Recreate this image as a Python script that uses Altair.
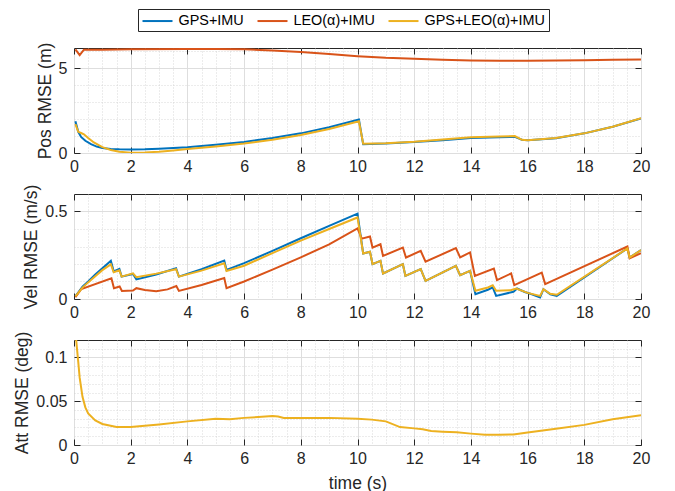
import altair as alt
import pandas as pd

FONT = "Liberation Sans"
INK = "#262626"
SERIES = ["GPS+IMU", "LEO(α)+IMU", "GPS+LEO(α)+IMU"]
COLORS = ["#0072BD", "#D95319", "#EDB120"]

# ---------------- Position RMSE (m) ----------------
pos_gps_t = [0.05, 0.15, 0.25, 0.4, 0.6, 0.8, 1.0, 1.3, 1.6, 2.0, 2.5, 3.0, 3.5, 4.0, 5.0, 6.0, 7.0, 8.0, 9.0, 10.05,
             10.2, 11.0, 12.0, 13.0, 14.0, 15.0, 15.55, 15.8, 16.0, 17.0, 18.0, 19.0, 20.0]
pos_gps_v = [1.87, 1.25, 0.95, 0.72, 0.52, 0.38, 0.30, 0.24, 0.22, 0.21, 0.22, 0.25, 0.29, 0.34, 0.48, 0.65, 0.88, 1.16, 1.52, 1.98,
             0.52, 0.56, 0.65, 0.76, 0.88, 0.93, 0.95, 0.78, 0.75, 0.87, 1.16, 1.55, 2.04]

pos_leo_t = [0.05, 0.2, 0.35, 1.0, 2.0, 4.0, 5.0, 6.0, 7.0, 8.0, 9.0, 10.0, 11.0, 12.0, 13.0, 14.0, 15.0, 16.0, 17.0, 18.0, 19.0, 20.0]
pos_leo_v = [6.12, 5.78, 6.10, 6.10, 6.12, 6.14, 6.14, 6.12, 6.05, 5.96, 5.85, 5.72, 5.62, 5.56, 5.50, 5.46, 5.45, 5.45, 5.46, 5.48, 5.50, 5.52]

pos_both_t = [0.05, 0.15, 0.25, 0.35, 0.5, 0.7, 1.0, 1.3, 1.6, 2.0, 2.5, 3.0, 3.5, 4.0, 5.0, 6.0, 7.0, 8.0, 9.0, 10.05,
              10.2, 11.0, 12.0, 13.0, 14.0, 15.0, 15.55, 15.8, 16.0, 17.0, 18.0, 19.0, 20.0]
pos_both_v = [1.70, 1.25, 1.18, 1.10, 0.88, 0.62, 0.35, 0.18, 0.08, 0.02, 0.03, 0.08, 0.15, 0.23, 0.39, 0.56, 0.78, 1.06, 1.42, 1.87,
              0.55, 0.58, 0.67, 0.80, 0.93, 0.98, 1.00, 0.78, 0.76, 0.88, 1.16, 1.55, 2.05]

# ---------------- Velocity RMSE (m/s) ----------------
vel_gps_t = [0.05, 0.3, 0.5, 0.75, 1.0, 1.3, 1.4, 1.6, 1.68, 2.08, 2.2, 2.9, 3.6, 3.7, 4.5, 5.3, 5.38, 6.0, 7.0, 8.0, 9.0, 10.0,
             10.2, 10.44, 10.53, 10.81, 10.9, 11.6, 11.69, 12.23, 12.4, 13.47, 13.62, 13.97, 14.16, 14.6, 14.77, 14.89,
             15.5, 15.63, 15.9, 16.15, 16.44, 16.56, 16.8, 17.03, 19.52, 19.6, 20.0]
vel_gps_v = [0.015, 0.07, 0.10, 0.14, 0.175, 0.218, 0.158, 0.172, 0.128, 0.143, 0.112, 0.14, 0.176, 0.128, 0.17, 0.219, 0.166, 0.205, 0.275, 0.347, 0.418, 0.488,
             0.26, 0.27, 0.199, 0.218, 0.146, 0.199, 0.132, 0.171, 0.104, 0.19, 0.136, 0.161, 0.028, 0.053, 0.066, 0.018,
             0.041, 0.06, 0.04, 0.027, 0.009, 0.056, 0.027, 0.018, 0.289, 0.237, 0.28]

vel_leo_t = [0.05, 0.26, 1.32, 1.41, 1.61, 1.69, 2.08, 2.2, 2.5, 2.9, 3.3, 3.61, 3.7, 4.5, 5.3, 5.38, 6.0, 7.0, 8.0, 9.0, 10.0,
             10.15, 10.44, 10.53, 10.81, 10.9, 11.6, 11.71, 12.23, 12.4, 13.47, 13.62, 13.97, 14.14, 14.81, 14.92, 15.42, 15.53,
             16.5, 16.62, 19.52, 19.6, 20.0]
vel_leo_v = [0.01, 0.057, 0.118, 0.061, 0.071, 0.046, 0.048, 0.062, 0.052, 0.045, 0.055, 0.074, 0.046, 0.08, 0.12, 0.062, 0.10, 0.168, 0.238, 0.312, 0.403,
             0.345, 0.357, 0.294, 0.313, 0.246, 0.294, 0.237, 0.275, 0.213, 0.291, 0.238, 0.266, 0.132, 0.174, 0.108, 0.146, 0.079,
             0.151, 0.085, 0.30, 0.233, 0.262]

vel_both_t = [0.05, 0.3, 0.5, 0.75, 1.0, 1.3, 1.4, 1.6, 1.68, 2.08, 2.2, 2.9, 3.6, 3.7, 4.5, 5.3, 5.38, 6.0, 7.0, 8.0, 9.0, 10.0,
              10.2, 10.44, 10.53, 10.81, 10.9, 11.6, 11.69, 12.23, 12.4, 13.47, 13.62, 13.97, 14.16, 14.6, 14.77, 14.89,
              15.4, 15.6, 16.0, 16.44, 16.56, 16.8, 17.03, 19.52, 19.6, 20.0]
vel_both_v = [0.015, 0.065, 0.095, 0.13, 0.165, 0.198, 0.153, 0.164, 0.128, 0.147, 0.125, 0.145, 0.17, 0.128, 0.162, 0.204, 0.16, 0.19, 0.262, 0.334, 0.40, 0.466,
              0.26, 0.27, 0.199, 0.218, 0.146, 0.199, 0.132, 0.171, 0.104, 0.19, 0.136, 0.161, 0.047, 0.066, 0.079, 0.047,
              0.05, 0.06, 0.035, 0.018, 0.056, 0.03, 0.024, 0.289, 0.237, 0.28]

# ---------------- Attitude RMSE (deg) ----------------
att_both_t = [0.05, 0.1, 0.15, 0.2, 0.3, 0.4, 0.5, 0.75, 1.0, 1.5, 2.0, 3.0, 4.0, 5.0, 5.5, 6.0, 6.5, 7.0, 7.2, 7.4, 8.0, 9.0, 10.0,
              10.5, 11.0, 11.5, 12.0, 12.3, 12.6, 13.0, 13.5, 14.0, 14.5, 15.0, 15.5, 16.0, 17.0, 18.0, 19.0, 20.0]
att_both_v = [0.13, 0.112, 0.095, 0.077, 0.055, 0.043, 0.036, 0.028, 0.024, 0.0205, 0.0205, 0.0235, 0.027, 0.030, 0.0295, 0.031, 0.032, 0.033, 0.0325, 0.031, 0.031, 0.031, 0.030,
              0.029, 0.027, 0.0205, 0.019, 0.018, 0.016, 0.0152, 0.0145, 0.013, 0.0118, 0.0117, 0.012, 0.0143, 0.0185, 0.023, 0.0295, 0.034]

# ---------------- ticks ----------------
x_major = [0, 2, 4, 6, 8, 10, 12, 14, 16, 18, 20]
x_minor = [i * 0.5 for i in range(41) if i % 4 != 0]
pos_major = [0, 5]
pos_minor = [1, 2, 3, 4, 6]
vel_major = [0, 0.5]
vel_minor = [0.1, 0.2, 0.3, 0.4]
att_major = [0, 0.05, 0.1]
att_minor = [0.01, 0.02, 0.03, 0.04, 0.06, 0.07, 0.08, 0.09, 0.11]


def frame(parts):
    dfs = []
    for name, ts, vs in parts:
        dfs.append(pd.DataFrame({"t": ts, "v": vs, "s": name}))
    return pd.concat(dfs, ignore_index=True)


legend = alt.Legend(
    orient="none", legendX=64, legendY=-39, direction="horizontal", title=None,
    symbolType="M-1,0H3", symbolSize=225, symbolStrokeWidth=2,
    labelFont=FONT, labelFontSize=14.4, labelColor="#000000", labelOffset=20,
    columnPadding=9, padding=3.5, strokeColor=INK, fillColor="white",
)

W, H = 567, 105
TICK = 6


def panel(df, ytitle, ymax, ymaj, ymin, xtitle):
    xs = alt.Scale(domain=[0, 20], nice=False, zero=False)
    ys = alt.Scale(domain=[0, ymax], nice=False, zero=False)
    base = alt.Chart(df)
    minor = base.mark_line(opacity=0).encode(
        x=alt.X("t:Q", scale=xs, axis=alt.Axis(orient="bottom", values=x_minor, grid=True, gridColor="#cfcfcf",
                                               gridDash=[1, 2], gridWidth=0.8, labels=False, ticks=False, domain=False, title=None)),
        y=alt.Y("v:Q", scale=ys, axis=alt.Axis(orient="left", values=ymin, grid=True, gridColor="#cfcfcf",
                                               gridDash=[1, 2], gridWidth=0.8, labels=False, ticks=False, domain=False, title=None)),
    )
    main = base.mark_line(strokeWidth=2, clip=True).encode(
        x=alt.X("t:Q", scale=xs, axis=alt.Axis(orient="bottom", values=x_major, grid=True, gridColor="#dedede",
                                               labels=True, labelFlush=False, ticks=False, domain=False, labelPadding=5, format="~g",
                                               title=xtitle if xtitle else None, titlePadding=8)),
        y=alt.Y("v:Q", scale=ys, axis=alt.Axis(orient="left", values=ymaj, grid=True, gridColor="#dedede",
                                               labels=True, labelFlush=False, ticks=False, domain=False, labelPadding=7, format="~g",
                                               title=ytitle, titlePadding=4)),
        color=alt.Color("s:N", scale=alt.Scale(domain=SERIES, range=COLORS), legend=legend),
    )
    ticks_bl = base.mark_line(opacity=0).encode(
        x=alt.X("t:Q", scale=xs, axis=alt.Axis(orient="bottom", values=x_major, grid=False, labels=False, ticks=True,
                                               tickSize=TICK, tickColor=INK, tickWidth=1, domain=False, offset=-TICK, title=None)),
        y=alt.Y("v:Q", scale=ys, axis=alt.Axis(orient="left", values=ymaj, grid=False, labels=False, ticks=True,
                                               tickSize=TICK, tickColor=INK, tickWidth=1, domain=False, offset=-TICK, title=None)),
    )
    ticks_tr = base.mark_line(opacity=0).encode(
        x=alt.X("t:Q", scale=xs, axis=alt.Axis(orient="top", values=x_major, grid=False, labels=False, ticks=True,
                                               tickSize=TICK, tickColor=INK, tickWidth=1, domain=False, offset=-TICK, title=None)),
        y=alt.Y("v:Q", scale=ys, axis=alt.Axis(orient="right", values=ymaj, grid=False, labels=False, ticks=True,
                                               tickSize=TICK, tickColor=INK, tickWidth=1, domain=False, offset=-TICK, title=None)),
    )
    return alt.layer(minor, ticks_bl, ticks_tr, main).resolve_axis(x="independent", y="independent").properties(width=W, height=H)


pos_df = frame([(SERIES[0], pos_gps_t, pos_gps_v), (SERIES[1], pos_leo_t, pos_leo_v), (SERIES[2], pos_both_t, pos_both_v)])
vel_df = frame([(SERIES[0], vel_gps_t, vel_gps_v), (SERIES[1], vel_leo_t, vel_leo_v), (SERIES[2], vel_both_t, vel_both_v)])
att_df = frame([(SERIES[2], att_both_t, att_both_v)])

p1 = panel(pos_df, "Pos RMSE (m)", 6.2, pos_major, pos_minor, None)
p2 = panel(vel_df, "Vel RMSE (m/s)", 0.6, vel_major, vel_minor, None)
p3 = panel(att_df, "Att RMSE (deg)", 0.12, att_major, att_minor, "time (s)")

chart = alt.vconcat(p1, p2, p3, spacing=41, bounds="flush").properties(
    padding={"left": 13, "top": 8, "right": 5, "bottom": 5}, background="white"
).configure_view(stroke=INK, strokeWidth=1).configure_axis(
    labelFont=FONT, titleFont=FONT, labelFontSize=16, titleFontSize=17.5, titleFontWeight="normal",
    labelColor=INK, titleColor=INK
)

chart.save("out.html", embed_options={"renderer": "svg", "actions": False})
